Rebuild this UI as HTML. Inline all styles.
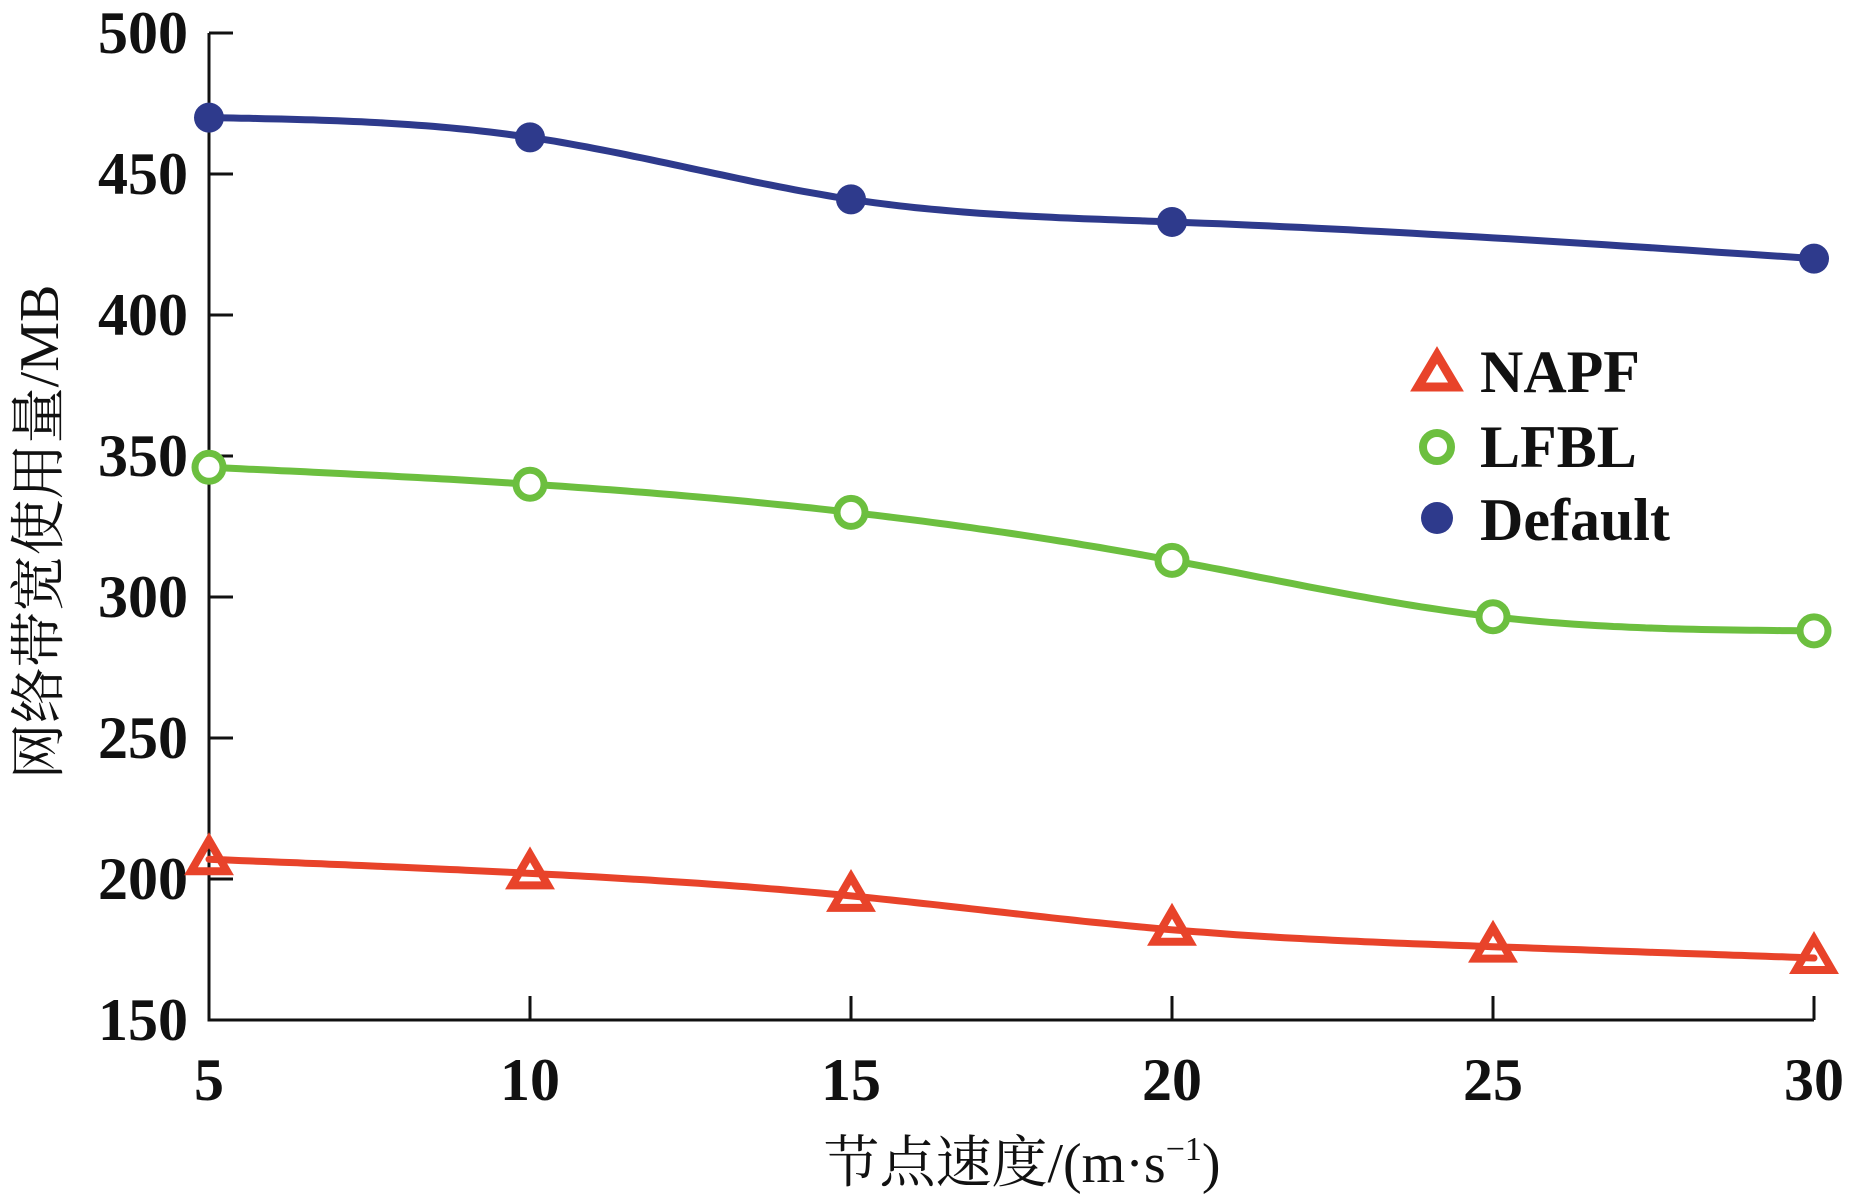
<!DOCTYPE html>
<html><head><meta charset="utf-8"><style>
html,body{margin:0;padding:0;background:#fff;}
svg{display:block;}
.tk{font-family:"Liberation Serif","Noto Serif CJK SC",serif;font-size:60px;font-weight:bold;fill:#111;}
</style></head><body>
<svg id="chart" width="1864" height="1201" viewBox="0 0 1864 1201" xmlns="http://www.w3.org/2000/svg">
<g id="axes"></g>
<g id="series"></g>
<text transform="translate(58,532) rotate(-90)" text-anchor="middle" font-size="56" fill="#111" style="font-family:'Liberation Serif','Noto Serif CJK SC',serif">网络带宽使用量/MB</text>
<text x="1022" y="1182" text-anchor="middle" font-size="56" fill="#111" style="font-family:'Liberation Serif','Noto Serif CJK SC',serif">节点速度/(m·s<tspan font-size="34" dy="-22">−1</tspan><tspan dy="22">)</tspan></text>
<g>
<polygon points="1437,355 1456,387 1418,387" fill="none" stroke="#e8432a" stroke-width="9"/>
<text class="tk" x="1480" y="392" font-size="62">NAPF</text>
<circle cx="1437" cy="447" r="14" fill="none" stroke="#6cbf3f" stroke-width="8"/>
<text class="tk" x="1480" y="467" font-size="62">LFBL</text>
<circle cx="1437" cy="518" r="16" fill="#2e3a8c"/>
<text class="tk" x="1480" y="540" font-size="62">Default</text>
</g>
</svg>
<script>
const xTicks = [5, 10, 15, 20, 25, 30];
const yTicks = [150, 200, 250, 300, 350, 400, 450, 500];
const defaultX = [5, 10, 15, 20, 30];
const defaultY = [470, 463, 441, 433, 420];
const lfblX = [5, 10, 15, 20, 25, 30];
const lfblY = [346, 340, 330, 313, 293, 288];
const napfX = [5, 10, 15, 20, 25, 30];
const napfY = [207, 202, 194, 182, 176, 172];

const NS = "http://www.w3.org/2000/svg";
const X0 = 209, X1 = 1814, Y0 = 1020, Y1 = 33;
const sx = v => X0 + (v - 5) / 25 * (X1 - X0);
const sy = v => Y0 - (v - 150) / 350 * (Y0 - Y1);
function mk(tag, attrs, parent) {
  const e = document.createElementNS(NS, tag);
  for (const k in attrs) e.setAttribute(k, attrs[k]);
  parent.appendChild(e);
  return e;
}
const axes = document.getElementById('axes');
const series = document.getElementById('series');
let ax = mk('path', {d: `M${X0},${Y1} L${X0},${Y0} L${X1},${Y0}`, fill: 'none', stroke: '#111', 'stroke-width': 3}, axes);


yTicks.forEach(v => {
  const y = sy(v);
  const t = mk('line', {x1: X0, x2: X0 + 24, y1: y, y2: y, stroke: '#111', 'stroke-width': 3}, axes);
  
  
  const l = mk('text', {x: 188, y: y + 20, 'text-anchor': 'end', class: 'tk'}, axes);
  l.textContent = v;
  
  
});
xTicks.forEach(v => {
  const x = sx(v);
  const t = mk('line', {x1: x, x2: x, y1: Y0, y2: Y0 - 24, stroke: '#111', 'stroke-width': 3}, axes);
  
  
  const l = mk('text', {x: x, y: 1100, 'text-anchor': 'middle', class: 'tk'}, axes);
  l.textContent = v;
  
  
});
// natural cubic spline through data
function spline(xs, ys) {
  const n = xs.length, h = [], a = [], l = [1], mu = [0], z = [0], c = new Array(n).fill(0), b = [], d = [];
  for (let i = 0; i < n - 1; i++) h.push(xs[i + 1] - xs[i]);
  for (let i = 1; i < n - 1; i++) a[i] = 3 / h[i] * (ys[i + 1] - ys[i]) - 3 / h[i - 1] * (ys[i] - ys[i - 1]);
  for (let i = 1; i < n - 1; i++) {
    l[i] = 2 * (xs[i + 1] - xs[i - 1]) - h[i - 1] * mu[i - 1];
    mu[i] = h[i] / l[i];
    z[i] = (a[i] - h[i - 1] * z[i - 1]) / l[i];
  }
  z[n - 1] = 0;
  for (let j = n - 2; j >= 0; j--) {
    c[j] = z[j] - mu[j] * c[j + 1];
    b[j] = (ys[j + 1] - ys[j]) / h[j] - h[j] * (c[j + 1] + 2 * c[j]) / 3;
    d[j] = (c[j + 1] - c[j]) / (3 * h[j]);
  }
  let path = '';
  for (let j = 0; j < n - 1; j++) {
    for (let k = 0; k <= 40; k++) {
      const t = h[j] * k / 40;
      const y = ys[j] + b[j] * t + c[j] * t * t + d[j] * t * t * t;
      path += (path ? ' L' : 'M') + sx(xs[j] + t).toFixed(1) + ',' + sy(y).toFixed(1);
    }
  }
  return path;
}
function drawSeries(name, xs, ys, color, marker) {
  const g = mk('g', {}, series);
  
  
  const path = mk('path', {d: spline(xs, ys), fill: 'none', stroke: color, 'stroke-width': 7, 'stroke-linecap': 'round', 'stroke-linejoin': 'round'}, g);
  
  
  xs.forEach((x, i) => {
    const cx = sx(x), cy = sy(ys[i]);
    let m;
    if (marker === 'tri') m = mk('polygon', {points: `${cx},${cy - 19} ${cx + 18},${cy + 12} ${cx - 18},${cy + 12}`, fill: 'none', stroke: color, 'stroke-width': 8}, g);
    else if (marker === 'circ') m = mk('circle', {cx: cx, cy: cy, r: 14, fill: '#fff', stroke: color, 'stroke-width': 7}, g);
    else m = mk('circle', {cx: cx, cy: cy, r: 15, fill: color}, g);
    
    
  });
}
drawSeries('default', defaultX, defaultY, '#2e3a8c', 'dot');
drawSeries('lfbl', lfblX, lfblY, '#6cbf3f', 'circ');
drawSeries('napf', napfX, napfY, '#e8432a', 'tri');
</script>
</body></html>
